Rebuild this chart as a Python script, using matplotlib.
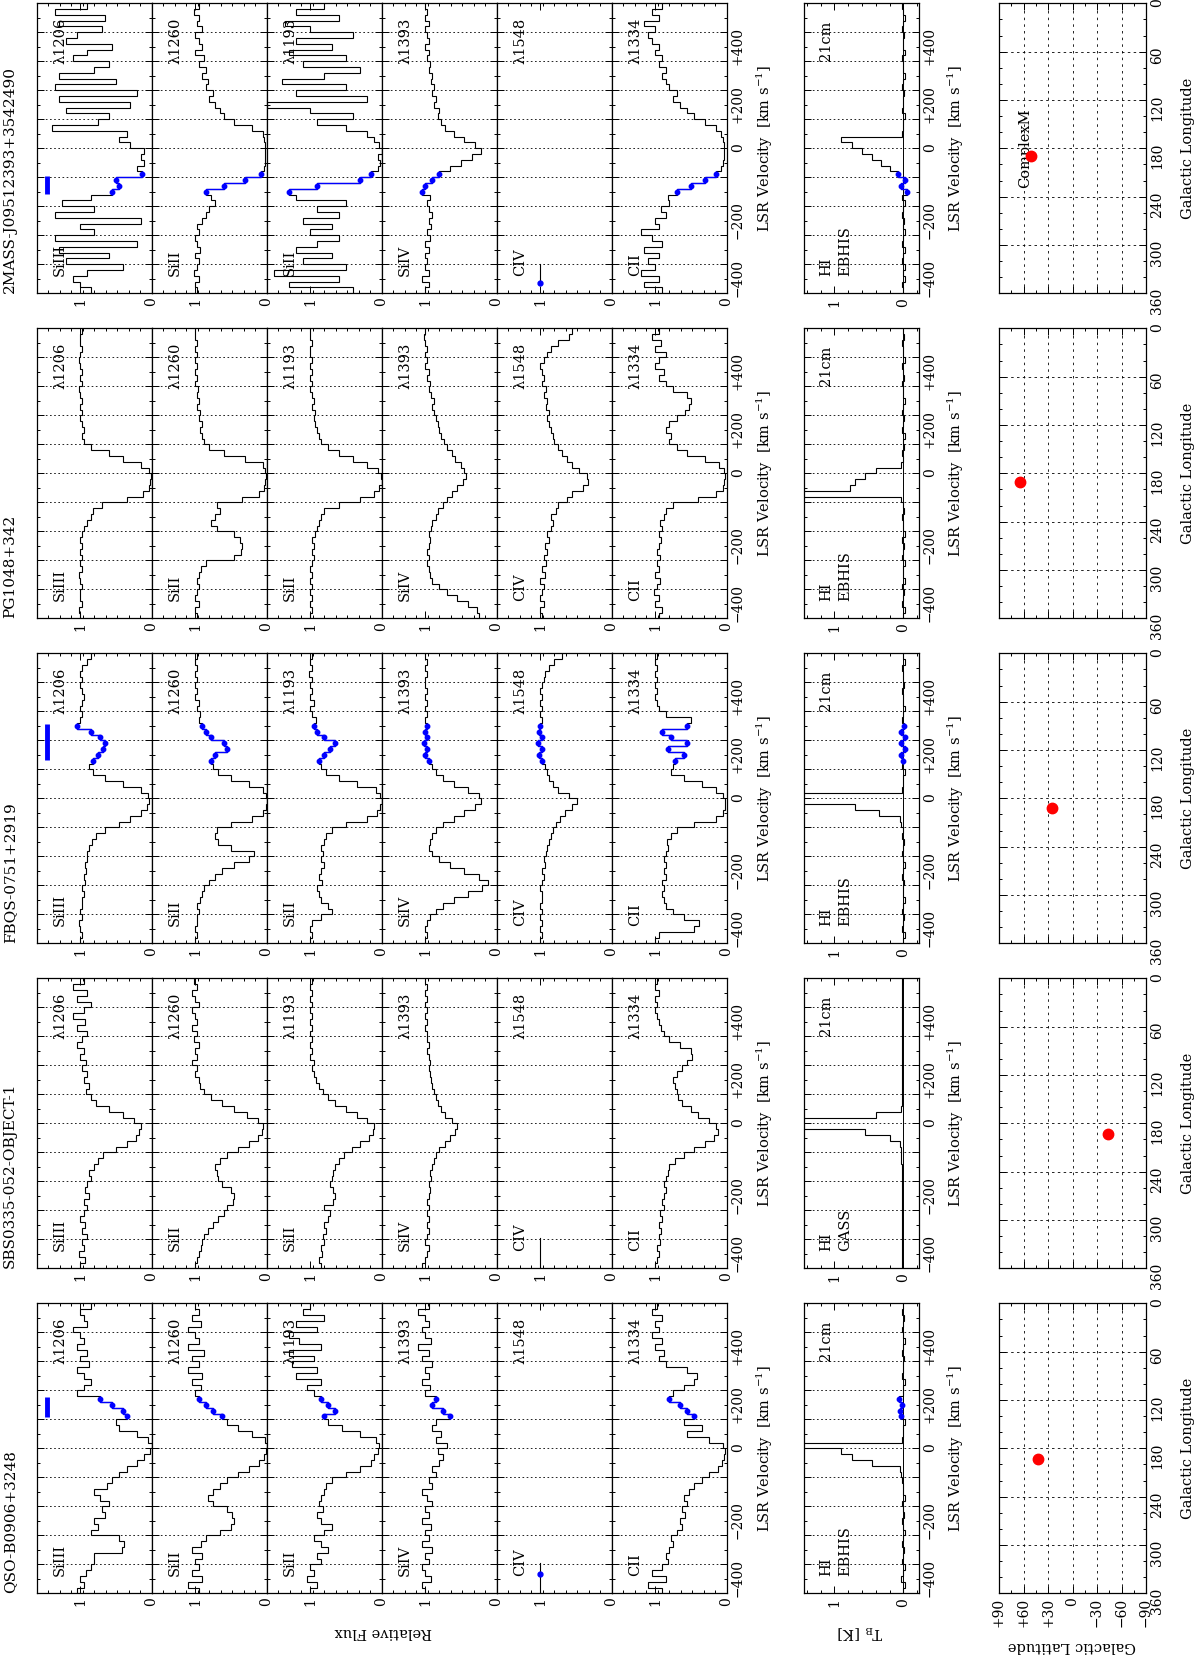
import numpy as np
import matplotlib.pyplot as plt

plt.rcParams['font.family'] = 'DejaVu Serif'
plt.rcParams['mathtext.fontset'] = 'dejavuserif'

W, H = 1200, 1655

# sightlines, top band to bottom band
sightlines = ['2MASS-J09512393+3542490', 'PG1048+342', 'FBQS-0751+2919',
              'SBS0335-052-OBJECT-1', 'QSO-B0906+3248']
hi_survey = ['EBHIS', 'EBHIS', 'EBHIS', 'GASS', 'EBHIS']
glon = [190, 191, 192, 193, 193]
glat = [51, 64, 25, -44, 42]
hvc_lo = [-159, None, 131, None, 107]
hvc_hi = [-97, None, 256, None, 176]
map_note = ['ComplexM', '', '', '', '']

ions = ['SiIII', 'SiII', 'SiII', 'SiIV', 'CIV', 'CII']
lines = ['λ1206', 'λ1260', 'λ1193', 'λ1393', 'λ1548', 'λ1334']

# velocity bins (km/s)
vel = np.arange(-490, 500, 20)
edges = np.arange(-500, 501, 20)

# ---- 2MASS-J09512393+3542490
j0951_si3 = [0.85, 1.0, 1.1, 0.9, 0.4, 1.2, 0.6, 1.3, 0.2, 1.35,
             0.8, 1.0, 0.15, 1.35, 0.8, 1.25, 0.85, 0.55, 0.45, 0.5,
             0.14, 0.2, 0.1, 0.15, 0.1, 0.3, 0.45, 0.35, 1.4, 0.75,
             0.6, 1.2, 0.3, 1.3, 0.2, 1.35, 0.5, 1.3, 0.8, 0.6,
             1.1, 0.9, 0.55, 1.2, 1.05, 0.7, 1.3, 0.65, 1.35, 0.9]
j0951_si2a = [0.97, 1.0, 0.95, 1.02, 0.98, 0.95, 1.0, 0.93, 0.97, 1.0,
              0.94, 0.98, 0.9, 0.85, 0.8, 0.72, 0.78, 0.85, 0.6, 0.3,
              0.08, 0.03, 0.02, 0.02, 0.02, 0.02, 0.03, 0.05, 0.2, 0.45,
              0.6, 0.65, 0.72, 0.8, 0.75, 0.85, 0.82, 0.9, 0.85, 0.95,
              0.88, 1.0, 0.9, 0.95, 1.0, 0.9, 0.98, 0.95, 1.02, 0.95]
j0951_si2b = [0.4, 1.3, 0.6, 1.5, 0.5, 1.1, 0.7, 1.2, 0.9, 0.6,
              1.0, 0.7, 1.1, 0.6, 0.9, 0.5, 1.2, 1.3, 0.9, 0.3,
              0.15, 0.05, 0.02, 0.05, 0.0, 0.03, 0.1, 0.2, 0.5, 0.9,
              0.4, 1.0, 1.6, 0.2, 1.2, 0.5, 1.4, 0.8, 0.3, 1.1,
              0.5, 1.3, 0.7, 1.2, 0.4, 1.0, 1.35, 0.6, 1.2, 0.8]
j0951_si4 = [1.0, 0.95, 1.05, 0.95, 1.0, 0.97, 1.0, 0.95, 1.0, 0.93,
             0.97, 0.92, 0.95, 0.9, 0.95, 0.97, 0.93, 1.05, 1.0, 0.9,
             0.8, 0.65, 0.5, 0.35, 0.22, 0.3, 0.45, 0.6, 0.72, 0.78,
             0.82, 0.8, 0.88, 0.85, 0.9, 0.88, 0.92, 0.9, 0.95, 0.93,
             0.97, 0.95, 1.0, 0.95, 0.98, 1.0, 0.95, 1.0, 0.97, 1.0]
j0951_c2 = [0.9, 1.15, 0.95, 1.2, 1.0, 1.1, 0.95, 1.15, 0.9, 1.05,
            1.2, 0.95, 1.0, 0.85, 0.92, 0.8, 0.82, 0.7, 0.5, 0.3,
            0.15, 0.08, 0.05, 0.03, 0.03, 0.04, 0.05, 0.08, 0.15, 0.3,
            0.45, 0.55, 0.65, 0.75, 0.7, 0.8, 0.85, 0.9, 0.85, 0.95,
            0.9, 1.0, 0.95, 1.05, 1.1, 1.0, 1.15, 0.95, 1.05, 0.9]
j0951_hi = [0.0, 0.02, -0.02, 0.01, -0.03, 0.02, 0.0, -0.02, 0.02, 0.0,
            -0.02, 0.01, -0.01, 0.02, 0.0, -0.02, 0.02, -0.05, 0.04, -0.03,
            0.08, 0.2, 0.32, 0.45, 0.6, 0.75, 0.9, 0.02, 0.0, 0.01,
            -0.02, 0.02, 0.0, 0.01, -0.01, 0.02, 0.0, -0.02, 0.01, 0.0,
            0.02, -0.02, 0.0, 0.01, -0.01, 0.02, 0.0, -0.02, 0.01, 0.02]

# ---- PG1048+342
pg1048_si3 = [1.0, 1.02, 0.98, 1.0, 1.0, 0.97, 1.0, 1.02, 0.98, 1.0,
              0.97, 1.0, 0.98, 1.0, 0.97, 0.95, 0.9, 0.85, 0.82, 0.7,
              0.35, 0.12, 0.04, 0.02, 0.01, 0.03, 0.15, 0.4, 0.6, 0.85,
              0.95, 0.97, 0.95, 0.98, 1.0, 0.97, 1.0, 0.98, 1.0, 1.02,
              0.98, 1.0, 0.97, 1.0, 1.02, 1.0, 0.98, 1.0, 1.0, 0.98]
pg1048_si2a = [0.98, 1.0, 0.95, 1.0, 0.97, 0.95, 0.98, 0.95, 0.92, 0.85,
               0.45, 0.36, 0.35, 0.37, 0.45, 0.7, 0.78, 0.72, 0.65, 0.7,
               0.35, 0.1, 0.03, 0.02, 0.01, 0.02, 0.05, 0.3, 0.6, 0.8,
               0.88, 0.9, 0.93, 0.9, 0.95, 0.93, 0.97, 0.95, 0.98, 0.96,
               1.0, 0.97, 1.0, 0.98, 1.0, 0.98, 1.0, 0.97, 1.0, 1.0]
pg1048_si2b = [1.0, 0.98, 1.0, 0.97, 1.0, 0.98, 1.0, 0.97, 1.0, 0.98,
               0.95, 0.97, 0.95, 0.97, 0.93, 0.9, 0.88, 0.85, 0.8, 0.6,
               0.3, 0.1, 0.03, 0.0, 0.01, 0.05, 0.2, 0.4, 0.6, 0.75,
               0.85, 0.88, 0.9, 0.93, 0.95, 0.93, 0.97, 0.95, 0.98, 1.0,
               0.97, 1.0, 0.98, 1.0, 0.97, 1.0, 1.0, 0.98, 1.0, 1.0]
pg1048_si4 = [0.25, 0.28, 0.4, 0.55, 0.7, 0.8, 0.9, 0.93, 0.95, 0.97,
              0.95, 0.97, 0.95, 0.93, 0.95, 0.92, 0.9, 0.85, 0.82, 0.75,
              0.7, 0.62, 0.55, 0.47, 0.43, 0.45, 0.5, 0.58, 0.62, 0.7,
              0.73, 0.78, 0.8, 0.82, 0.85, 0.87, 0.9, 0.88, 0.92, 0.95,
              0.93, 0.97, 0.95, 1.0, 0.97, 1.0, 0.98, 1.0, 1.02, 1.0]
pg1048_c4 = [0.97, 1.0, 0.95, 1.0, 0.98, 0.95, 1.0, 0.93, 0.97, 0.92,
             0.95, 0.9, 0.93, 0.88, 0.9, 0.85, 0.82, 0.85, 0.78, 0.75,
             0.62, 0.55, 0.4, 0.33, 0.35, 0.45, 0.55, 0.62, 0.7, 0.75,
             0.8, 0.82, 0.85, 0.88, 0.9, 0.88, 0.92, 0.9, 0.95, 0.92,
             0.97, 0.95, 0.98, 1.0, 0.95, 0.9, 0.85, 0.75, 0.6, 0.55]
pg1048_c2 = [0.95, 0.9, 1.0, 0.95, 1.02, 0.97, 0.93, 1.0, 0.95, 0.98,
             0.93, 0.97, 0.95, 0.92, 0.95, 0.9, 0.93, 0.88, 0.85, 0.75,
             0.4, 0.15, 0.05, 0.03, 0.02, 0.04, 0.1, 0.3, 0.55, 0.7,
             0.8, 0.78, 0.85, 0.8, 0.7, 0.58, 0.52, 0.5, 0.55, 0.75,
             0.85, 0.95, 0.88, 1.0, 0.95, 0.85, 1.0, 0.92, 1.05, 0.95]
pg1048_hi = [0.01, -0.02, 0.02, 0.0, -0.01, 0.02, -0.02, 0.01, 0.0, -0.02,
             0.02, 0.0, -0.01, 0.02, -0.02, 0.01, 0.0, 0.02, -0.01, 0.01,
             0.03, 2.0, 0.78, 0.7, 0.55, 0.4, 0.03, 0.0, 0.02, -0.01,
             0.01, -0.02, 0.02, 0.0, -0.01, 0.02, 0.0, -0.02, 0.01, 0.0,
             0.02, -0.01, 0.0, 0.02, -0.02, 0.01, 0.0, 0.02, -0.01, 0.01]

# ---- FBQS-0751+2919
j0751_si3 = [1.0, 0.98, 1.0, 1.02, 0.98, 1.0, 0.97, 0.98, 0.95, 0.97,
             0.93, 0.95, 0.92, 0.93, 0.9, 0.9, 0.88, 0.83, 0.78, 0.65,
             0.45, 0.3, 0.15, 0.06, 0.03, 0.05, 0.15, 0.4, 0.65, 0.82,
             0.88, 0.82, 0.75, 0.68, 0.65, 0.72, 0.85, 1.05, 1.0, 0.97,
             1.0, 0.98, 0.95, 0.98, 1.0, 0.97, 1.0, 0.98, 0.9, 0.85]
j0751_si2a = [1.0, 0.98, 1.0, 0.97, 0.98, 0.95, 0.97, 0.93, 0.9, 0.87,
              0.8, 0.72, 0.62, 0.45, 0.25, 0.18, 0.5, 0.68, 0.72, 0.7,
              0.5, 0.2, 0.05, 0.01, 0.0, 0.01, 0.05, 0.25, 0.5, 0.68,
              0.75, 0.78, 0.72, 0.55, 0.6, 0.78, 0.85, 0.9, 0.95, 0.93,
              0.97, 0.95, 1.0, 0.97, 1.0, 0.98, 1.0, 0.97, 1.0, 0.98]
j0751_si2b = [1.0, 0.98, 1.0, 0.97, 0.85, 0.7, 0.75, 0.85, 0.88, 0.9,
              0.83, 0.87, 0.85, 0.8, 0.85, 0.82, 0.85, 0.8, 0.78, 0.7,
              0.5, 0.2, 0.06, 0.02, 0.0, 0.02, 0.08, 0.35, 0.6, 0.78,
              0.85, 0.88, 0.8, 0.72, 0.65, 0.8, 0.9, 0.95, 0.92, 0.97,
              1.0, 0.95, 1.0, 0.97, 1.0, 0.98, 1.02, 0.97, 1.0, 0.98]
j0751_si4 = [1.0, 0.98, 1.0, 0.97, 0.93, 0.85, 0.75, 0.6, 0.4, 0.2,
             0.12, 0.25, 0.45, 0.65, 0.8, 0.9, 0.95, 0.93, 0.9, 0.85,
             0.75, 0.6, 0.45, 0.3, 0.22, 0.25, 0.4, 0.6, 0.75, 0.85,
             0.9, 0.95, 1.0, 0.97, 1.02, 0.98, 1.0, 0.97, 1.0, 0.98,
             1.0, 0.97, 1.0, 0.98, 1.0, 1.0, 0.98, 1.0, 0.97, 1.0]
j0751_c4 = [1.0, 0.98, 1.0, 0.97, 1.0, 0.98, 1.0, 0.97, 0.98, 1.0,
            0.97, 0.95, 0.97, 0.93, 0.95, 0.92, 0.9, 0.88, 0.85, 0.82,
            0.78, 0.72, 0.65, 0.55, 0.48, 0.6, 0.75, 0.82, 0.87, 0.9,
            0.93, 0.97, 1.02, 0.98, 1.03, 0.97, 1.02, 1.0, 0.98, 1.0,
            0.97, 1.0, 0.98, 1.0, 0.97, 0.95, 0.93, 0.88, 0.8, 0.7]
j0751_c2 = [1.0, 0.95, 0.45, 0.38, 0.6, 0.75, 0.85, 0.88, 0.9, 0.88,
            0.9, 0.85, 0.88, 0.85, 0.87, 0.85, 0.82, 0.83, 0.78, 0.7,
            0.45, 0.15, 0.05, 0.02, 0.02, 0.05, 0.15, 0.35, 0.6, 0.78,
            0.75, 0.72, 0.6, 0.82, 0.55, 0.78, 0.9, 0.55, 0.5, 0.85,
            0.95, 0.98, 1.0, 0.97, 1.0, 0.98, 1.0, 0.97, 1.0, 0.98]
j0751_hi = [0.01, -0.02, 0.02, 0.0, -0.01, 0.02, 0.0, -0.02, 0.01, 0.0,
            -0.01, 0.02, 0.0, -0.02, 0.01, 0.02, 0.0, -0.01, 0.02, 0.01,
            0.03, 0.05, 0.35, 0.7, 3.0, 3.0, 0.02, 0.0, 0.01, -0.02,
            0.02, 0.0, 0.04, -0.03, 0.03, -0.02, 0.04, -0.01, 0.02, 0.0,
            -0.02, 0.01, 0.0, 0.02, -0.01, 0.01, 0.0, 0.02, -0.02, 0.01]

# ---- SBS0335-052-OBJECT-1
sbs0335_si3 = [1.0, 0.93, 1.02, 0.95, 0.98, 0.9, 0.97, 0.93, 1.0, 0.95,
               0.9, 0.95, 0.88, 0.93, 0.9, 0.85, 0.87, 0.8, 0.75, 0.68,
               0.5, 0.35, 0.22, 0.17, 0.15, 0.25, 0.4, 0.6, 0.78, 0.85,
               0.92, 0.88, 0.95, 0.9, 0.97, 0.92, 1.0, 0.95, 1.05, 0.98,
               0.9, 1.05, 0.93, 1.1, 0.95, 0.85, 1.05, 0.9, 1.1, 0.95]
sbs0335_si2a = [1.0, 0.97, 0.95, 0.92, 0.9, 0.87, 0.82, 0.75, 0.68, 0.6,
                0.55, 0.47, 0.45, 0.5, 0.62, 0.68, 0.7, 0.72, 0.65, 0.55,
                0.4, 0.25, 0.12, 0.07, 0.05, 0.12, 0.28, 0.45, 0.62, 0.78,
                0.88, 0.93, 0.95, 1.0, 0.97, 1.05, 0.97, 1.0, 0.95, 1.02,
                0.97, 1.05, 0.98, 1.0, 1.05, 0.95, 1.0, 1.05, 0.97, 1.02]
sbs0335_si2b = [0.85, 0.88, 0.83, 0.85, 0.8, 0.82, 0.78, 0.8, 0.75, 0.72,
                0.8, 0.68, 0.65, 0.68, 0.72, 0.7, 0.68, 0.65, 0.6, 0.52,
                0.42, 0.3, 0.18, 0.12, 0.1, 0.2, 0.35, 0.5, 0.65, 0.75,
                0.82, 0.88, 0.92, 0.95, 0.97, 0.95, 1.0, 0.97, 1.0, 0.98,
                1.0, 0.97, 1.0, 0.98, 1.0, 0.97, 1.0, 0.98, 1.0, 0.97]
sbs0335_si4 = [1.05, 1.0, 0.97, 0.95, 1.0, 0.97, 0.95, 0.98, 0.95, 0.97,
               0.95, 0.97, 0.95, 0.93, 0.95, 0.92, 0.93, 0.9, 0.88, 0.85,
               0.8, 0.72, 0.65, 0.58, 0.55, 0.62, 0.72, 0.78, 0.82, 0.85,
               0.88, 0.9, 0.92, 0.93, 0.95, 0.93, 0.95, 0.97, 0.95, 0.98,
               0.97, 1.0, 0.98, 1.0, 0.97, 1.0, 0.98, 1.0, 0.98, 1.0]
sbs0335_c2 = [1.0, 0.97, 0.95, 0.97, 0.93, 0.95, 0.92, 0.95, 0.9, 0.93,
              0.88, 0.9, 0.88, 0.85, 0.87, 0.85, 0.82, 0.8, 0.72, 0.6,
              0.45, 0.3, 0.18, 0.12, 0.15, 0.25, 0.4, 0.5, 0.62, 0.68,
              0.7, 0.72, 0.75, 0.7, 0.62, 0.55, 0.48, 0.5, 0.65, 0.8,
              0.88, 0.92, 0.95, 0.97, 1.0, 0.97, 1.0, 0.95, 1.0, 0.98]
sbs0335_hi = [0.02, 0.02, 0.02, 0.02, 0.02, 0.02, 0.02, 0.02, 0.02, 0.02,
              0.02, 0.02, 0.02, 0.02, 0.02, 0.02, 0.02, 0.02, 0.03, 0.03,
              0.04, 0.05, 0.2, 0.55, 3.0, 3.0, 0.4, 0.03, 0.02, 0.02,
              0.02, 0.02, 0.02, 0.02, 0.02, 0.02, 0.02, 0.02, 0.02, 0.02,
              0.02, 0.02, 0.02, 0.02, 0.02, 0.02, 0.02, 0.02, 0.02, 0.02]

# ---- QSO-B0906+3248
b0906_si3 = [1.05, 0.95, 1.0, 0.92, 0.85, 0.8, 0.8, 0.42, 0.38, 0.45,
             0.85, 0.75, 0.8, 0.65, 0.7, 0.6, 0.72, 0.8, 0.62, 0.55,
             0.45, 0.35, 0.2, 0.1, 0.02, 0.0, 0.05, 0.2, 0.45, 0.5,
             0.35, 0.4, 0.55, 0.72, 1.05, 0.95, 0.85, 0.95, 1.05, 0.88,
             1.0, 0.9, 1.05, 0.95, 1.0, 1.1, 0.9, 0.95, 1.0, 0.85]
b0906_si2a = [0.95, 1.1, 0.9, 1.05, 0.95, 1.0, 0.9, 1.05, 0.92, 0.85,
              0.65, 0.5, 0.45, 0.48, 0.55, 0.75, 0.82, 0.75, 0.65, 0.55,
              0.4, 0.25, 0.1, 0.03, 0.01, 0.0, 0.02, 0.2, 0.4, 0.55,
              0.62, 0.75, 0.85, 0.95, 1.0, 0.92, 1.05, 0.9, 1.1, 0.95,
              1.05, 0.88, 1.1, 0.95, 1.0, 1.1, 0.92, 1.05, 0.95, 1.0]
b0906_si2b = [1.0, 0.9, 1.05, 0.95, 1.0, 0.85, 0.9, 0.75, 0.85, 0.95,
              0.8, 0.7, 0.85, 0.9, 0.82, 0.88, 0.85, 0.8, 0.78, 0.7,
              0.5, 0.3, 0.15, 0.1, 0.05, 0.03, 0.08, 0.3, 0.55, 0.75,
              0.8, 0.65, 0.75, 0.85, 0.95, 1.05, 0.85, 1.2, 0.9, 1.25,
              0.95, 1.3, 0.85, 1.15, 1.3, 0.9, 1.2, 0.8, 1.1, 1.0]
b0906_si4 = [1.0, 1.05, 0.92, 1.0, 1.05, 0.95, 1.0, 0.9, 1.05, 0.95,
             1.0, 0.92, 1.05, 0.95, 1.0, 0.9, 0.97, 1.05, 0.9, 0.95,
             0.85, 0.9, 0.8, 0.75, 0.82, 0.7, 0.85, 0.78, 0.9, 0.85,
             0.65, 0.75, 0.9, 0.85, 1.0, 0.93, 1.05, 0.95, 1.0, 0.9,
             1.05, 0.95, 1.1, 0.92, 1.0, 1.05, 0.95, 1.0, 1.1, 0.95]
b0906_c2 = [0.9, 1.1, 0.85, 1.05, 0.9, 0.82, 0.85, 0.8, 0.75, 0.78,
            0.7, 0.62, 0.65, 0.58, 0.62, 0.55, 0.6, 0.52, 0.45, 0.35,
            0.25, 0.12, 0.06, 0.03, 0.02, 0.05, 0.25, 0.55, 0.35, 0.6,
            0.45, 0.55, 0.65, 0.8, 0.75, 0.6, 0.45, 0.42, 0.55, 0.85,
            0.95, 0.88, 1.0, 0.9, 1.05, 0.95, 1.0, 0.9, 1.05, 0.97]
b0906_hi = [0.01, -0.02, 0.03, 0.0, -0.02, 0.02, 0.01, -0.01, 0.02, 0.0,
            -0.02, 0.01, 0.02, -0.01, 0.0, 0.02, -0.02, 0.01, 0.0, 0.02,
            0.03, 0.05, 0.45, 0.75, 0.9, 3.0, 0.02, 0.0, 0.01, -0.02,
            0.03, 0.05, 0.02, 0.06, 0.01, 0.0, -0.02, 0.02, 0.0, 0.01,
            -0.01, 0.02, 0.0, -0.02, 0.01, 0.02, 0.0, -0.01, 0.02, 0.0]

# CIV with only a short piece of spectrum: (v_start, v_end, v_dot)
civ_short = {0: (-465, -398, -465), 3: (-500, -395, None), 4: (-500, -395, -432)}

spectra = [
    [j0951_si3, j0951_si2a, j0951_si2b, j0951_si4, None, j0951_c2],
    [pg1048_si3, pg1048_si2a, pg1048_si2b, pg1048_si4, pg1048_c4, pg1048_c2],
    [j0751_si3, j0751_si2a, j0751_si2b, j0751_si4, j0751_c4, j0751_c2],
    [sbs0335_si3, sbs0335_si2a, sbs0335_si2b, sbs0335_si4, None, sbs0335_c2],
    [b0906_si3, b0906_si2a, b0906_si2b, b0906_si4, None, b0906_c2],
]
hi_spectra = [j0951_hi, pg1048_hi, j0751_hi, sbs0335_hi, b0906_hi]

# layout in pixels
PX0, PW = 36.5, 115.0
HX0, HW = 803.5, 115.0
MX0, MW = 999.0, 147.0
TOP0, STEP, PH = 3.3, 325.0, 290.0
FMAX = 1.61
TMAX, TMIN = 1.45, -0.22

fig = plt.figure(figsize=(W / 100, H / 100), dpi=100)


def box(x0, y0, w, h):
    return fig.add_axes([x0 / W, 1 - (y0 + h) / H, w / W, h / H])


def vel_axis(ax):
    ax.set_ylim(-500, 500)
    for v in range(-400, 401, 100):
        ax.axhline(v, color='k', lw=0.6, ls=(0, (2, 3)), zorder=1)
    ax.set_yticks(np.arange(-500, 501, 100))
    ax.set_yticks(np.arange(-500, 501, 50), minor=True)
    ax.tick_params(which='both', direction='in', top=True, bottom=True,
                   left=True, right=True, labelleft=False, labelright=False,
                   width=0.7, labelsize=10)
    ax.tick_params(which='major', length=5)
    ax.tick_params(which='minor', length=2.5)
    for s in ax.spines.values():
        s.set_linewidth(0.9)


def vel_labels(ax):
    ax.tick_params(axis='y', labelright=True, labelrotation=90, pad=3)
    ax.set_yticklabels(['', '−400', '', '−200', '', '0', '', '+200', '', '+400', ''])


def blue_part(ax, vals, lo, hi):
    vals = np.array(vals)
    m = (vel >= lo - 10) & (vel <= hi + 10)
    sub_edges = np.append(vel[m] - 10, vel[m][-1] + 10)
    ax.stairs(vals[m], sub_edges, orientation='horizontal', baseline=None,
              color='blue', lw=1.0, zorder=3)
    ax.plot(vals[m], vel[m], 'o', color='blue', ms=3.2, zorder=4)


for k in range(5):
    top = TOP0 + STEP * k
    lo, hi = hvc_lo[k], hvc_hi[k]

    # metal line panels
    for j in range(6):
        ax = box(PX0 + PW * j, top, PW, PH)
        vel_axis(ax)
        ax.set_xlim(FMAX, 0)
        ax.set_xticks([0, 1])
        ax.set_xticks(np.linspace(0, FMAX, 11), minor=True)
        ax.set_xticklabels(['0', '1'], rotation=90)
        ax.tick_params(axis='x', pad=3)
        vals = spectra[k][j]
        if vals is None:
            v0, v1, vd = civ_short[k]
            ax.plot([1, 1], [v0, v1], color='k', lw=0.8)
            if vd is not None:
                ax.plot([1], [vd], 'o', color='blue', ms=3.5)
        else:
            ax.stairs(vals, edges, orientation='horizontal', baseline=None,
                      color='k', lw=0.8, zorder=2)
            if lo is not None:
                blue_part(ax, vals, lo, hi)
        if j == 0 and lo is not None:
            ax.plot([1.47, 1.47], [lo, hi], color='blue', lw=3.5, solid_capstyle='butt')
        ax.text(1.28, -440, ions[j], rotation=90, ha='center', va='bottom', fontsize=10.5)
        ax.text(1.28, 450, lines[j], rotation=90, ha='center', va='top', fontsize=10.5)
        if j == 5:
            vel_labels(ax)

    # 21cm panel
    ax = box(HX0, top, HW, PH)
    vel_axis(ax)
    ax.set_xlim(TMAX, TMIN)
    ax.set_xticks([0, 1])
    ax.set_xticks(np.arange(-0.2, 1.41, 0.2), minor=True)
    ax.set_xticklabels(['0', '1'], rotation=90)
    ax.axvline(0, color='k', lw=0.7)
    ax.stairs(hi_spectra[k], edges, orientation='horizontal', baseline=None,
              color='k', lw=0.8, zorder=2)
    if lo is not None:
        blue_part(ax, hi_spectra[k], lo, hi)
    ax.text(1.12, -440, 'HI', rotation=90, ha='center', va='bottom', fontsize=10.5)
    ax.text(0.84, -440, hi_survey[k], rotation=90, ha='center', va='bottom', fontsize=10.5)
    ax.text(1.12, 440, '21cm', rotation=90, ha='center', va='top', fontsize=10.5)
    vel_labels(ax)

    # sky position panel
    ax = box(MX0, top, MW, PH)
    ax.set_xlim(90, -90)
    ax.set_ylim(360, 0)
    for b in (-60, -30, 0, 30, 60):
        ax.axvline(b, color='k', lw=0.6, ls=(0, (3, 5)))
    for l in (60, 120, 180, 240, 300):
        ax.axhline(l, color='k', lw=0.6, ls=(0, (3, 4)))
    ax.set_xticks(np.arange(-90, 91, 30))
    ax.set_xticks(np.arange(-90, 91, 15), minor=True)
    ax.set_yticks(np.arange(0, 361, 60))
    ax.set_yticks(np.arange(0, 361, 20), minor=True)
    ax.tick_params(which='both', direction='in', top=True, bottom=True,
                   left=True, right=True, labelleft=False, labelright=True,
                   labelbottom=(k == 4), width=0.7, labelsize=10)
    ax.tick_params(which='major', length=5)
    ax.tick_params(which='minor', length=2.5)
    ax.tick_params(axis='y', labelrotation=90, pad=3)
    ax.set_yticklabels(['0', '60', '120', '180', '240', '300', '360'])
    ax.set_xticklabels(['−90', '−60', '−30', '0', '+30', '+60', '+90'])
    ax.tick_params(axis='x', labelrotation=90, pad=3)
    for s in ax.spines.values():
        s.set_linewidth(0.9)
    ax.plot(glat[k], glon[k], 'o', color='red', ms=7.5, zorder=5)
    if map_note[k]:
        ax.text(58, 180, map_note[k], rotation=90, ha='center', va='center', fontsize=10.5)

    # band texts
    yc = 1 - (top + PH / 2) / H
    fig.text(10 / W, 1 - (top + PH) / H, sightlines[k], rotation=90,
             ha='center', va='bottom', fontsize=11)
    fig.text(765 / W, yc, 'LSR Velocity  [km s$^{-1}$]', rotation=90,
             ha='center', va='center', fontsize=10.5)
    fig.text(956 / W, yc, 'LSR Velocity  [km s$^{-1}$]', rotation=90,
             ha='center', va='center', fontsize=10.5)
    fig.text(1188 / W, yc, 'Galactic Longitude', rotation=90,
             ha='center', va='center', fontsize=10.5)

fig.text(383 / W, 1 - 1632 / H, 'Relative Flux', rotation=180,
         ha='center', va='center', fontsize=10.5)
fig.text(860 / W, 1 - 1632 / H, 'T$_\\mathrm{B}$ [K]', rotation=180,
         ha='center', va='center', fontsize=10.5)
fig.text(1072 / W, 1 - 1646 / H, 'Galactic Latitude', rotation=180,
         ha='center', va='center', fontsize=10.5)

fig.savefig('out.png', dpi=100)
